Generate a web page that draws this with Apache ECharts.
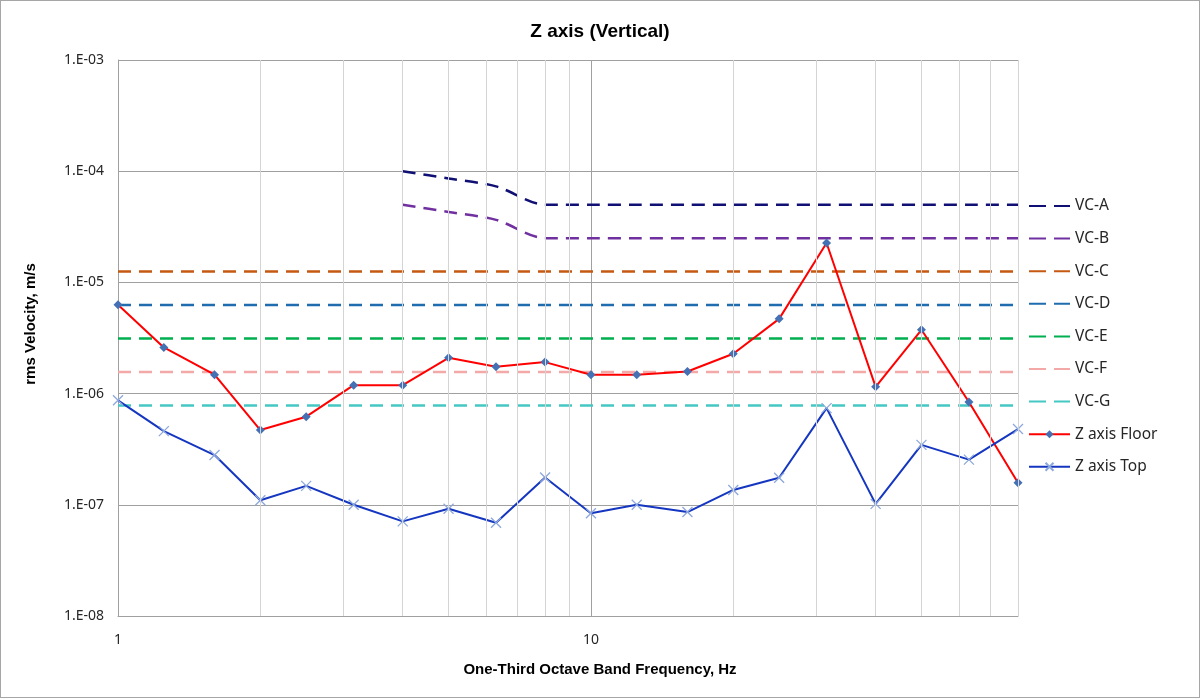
<!DOCTYPE html>
<html>
<head>
<meta charset="utf-8">
<script src="https://cdn.jsdelivr.net/npm/echarts@6/dist/echarts.min.js"></script>
<style>
  html, body { margin: 0; padding: 0; background: #fff; }
  #chart { width: 1198px; height: 696px; border: 1px solid #A6A6A6; }
</style>
</head>
<body>
<div id="chart"></div>
<script>
// ---- Data ----
const freqs = [1, 1.25, 1.6, 2, 2.5, 3.15, 4, 5, 6.3, 8, 10, 12.5, 16, 20, 25, 31.5, 40, 50, 63, 80];
const zFloor = [6.3e-6, 2.6e-6, 1.48e-6, 4.7e-7, 6.2e-7, 1.19e-6, 1.19e-6, 2.1e-6, 1.74e-6, 1.92e-6, 1.48e-6, 1.48e-6, 1.58e-6, 2.28e-6, 4.7e-6, 2.26e-5, 1.15e-6, 3.75e-6, 8.4e-7, 1.58e-7];
const zTop = [8.7e-7, 4.6e-7, 2.8e-7, 1.1e-7, 1.48e-7, 1.0e-7, 7.1e-8, 9.2e-8, 6.9e-8, 1.76e-7, 8.4e-8, 1.0e-7, 8.6e-8, 1.36e-7, 1.75e-7, 7.4e-7, 1.02e-7, 3.46e-7, 2.55e-7, 4.8e-7];
const vcFreqs = [4, 5, 6.3, 8, 10, 12.5, 16, 20, 25, 31.5, 40, 50, 63, 80];
const vcA = [1.0e-4, 8.6e-5, 7.3e-5, 5.0e-5, 5.0e-5, 5.0e-5, 5.0e-5, 5.0e-5, 5.0e-5, 5.0e-5, 5.0e-5, 5.0e-5, 5.0e-5, 5.0e-5];
const vcB = [5.0e-5, 4.3e-5, 3.65e-5, 2.5e-5, 2.5e-5, 2.5e-5, 2.5e-5, 2.5e-5, 2.5e-5, 2.5e-5, 2.5e-5, 2.5e-5, 2.5e-5, 2.5e-5];
const flatFreqs = [1, 80];
const vcC = [12.5e-6, 12.5e-6];
const vcD = [6.25e-6, 6.25e-6];
const vcE = [3.125e-6, 3.125e-6];
const vcF = [1.5625e-6, 1.5625e-6];
const vcG = [7.8e-7, 7.8e-7];
const minorGridFreqs = [2, 3, 4, 5, 6, 7, 8, 9, 20, 30, 40, 50, 60, 70, 80];
const vcNames = ['VC-A', 'VC-B', 'VC-C', 'VC-D', 'VC-E', 'VC-F', 'VC-G'];
const measNames = ['Z axis Floor', 'Z axis Top'];

const pair = (xs, ys) => xs.map((x, i) => [x, ys[i]]);

function dashed(name, xs, ys, color, smooth) {
  return {
    name: name, type: 'line', data: pair(xs, ys),
    symbol: 'none', smooth: smooth || false,
    lineStyle: { color: color, width: 2.5, type: [13, 8] },
    itemStyle: { color: color },
    emphasis: { disabled: true }
  };
}

const chart = echarts.init(document.getElementById('chart'));
const font = '"Noto Sans", "Open Sans", sans-serif';
const boldFont = '"Liberation Sans", Arial, sans-serif';

const legendData = vcNames.map(n => ({
  name: n,
  itemStyle: { color: 'rgba(0,0,0,0)', borderWidth: 0, opacity: 0 },
  lineStyle: { type: [17, 8] }
})).concat(measNames.map(n => ({ name: n })));

chart.setOption({
  animation: false,
  backgroundColor: '#fff',
  title: {
    text: 'Z axis (Vertical)', left: 'center', top: 16,
    textStyle: { fontFamily: boldFont, fontWeight: 'bold', fontSize: 19, color: '#000' }
  },
  grid: { left: 117, top: 59, width: 900, height: 556 },
  legend: {
    orient: 'vertical', left: 1022, top: 192,
    itemWidth: 41, itemHeight: 10, itemGap: 16.6,
    data: legendData,
    textStyle: { fontFamily: font, fontSize: 15.5, color: '#262626' }
  },
  xAxis: {
    type: 'log', logBase: 10, min: 1, max: 80,
    name: 'One-Third Octave Band Frequency, Hz', nameLocation: 'middle', nameGap: 46,
    nameTextStyle: { fontFamily: boldFont, fontWeight: 'bold', fontSize: 15, color: '#000', padding: [0, 0, 0, 64] },
    axisLine: { show: true, lineStyle: { color: '#A0A0A0', width: 1 } },
    axisTick: { show: false },
    axisLabel: {
      margin: 17, fontFamily: font, fontSize: 14, color: '#262626',
      showMaxLabel: false,
      formatter: v => { const e = Math.log10(v); return Math.abs(e - Math.round(e)) < 1e-6 ? String(Math.round(v)) : ''; }
    },
    splitLine: { show: true, lineStyle: { color: '#A0A0A0', width: 1 } },
    minorTick: { show: false }, minorSplitLine: { show: false }
  },
  yAxis: {
    type: 'log', logBase: 10, min: 1e-8, max: 1e-3,
    name: 'rms Velocity, m/s', nameLocation: 'middle', nameGap: 80,
    nameTextStyle: { fontFamily: boldFont, fontWeight: 'bold', fontSize: 15, color: '#000', padding: [0, 0, 0, 28] },
    axisLine: { show: true, lineStyle: { color: '#A0A0A0', width: 1 } },
    axisTick: { show: false },
    axisLabel: {
      margin: 14, fontFamily: font, fontSize: 14, color: '#262626',
      formatter: v => {
        const e = Math.round(Math.log10(v));
        const a = Math.abs(e);
        return '1.E' + (e < 0 ? '-' : '+') + (a < 10 ? '0' + a : a);
      }
    },
    splitLine: { show: true, lineStyle: { color: '#A0A0A0', width: 1 } }
  },
  series: [
    {
      name: 'grid-minor', type: 'line', data: [], silent: true,
      markLine: {
        silent: true, symbol: ['none', 'none'], label: { show: false },
        lineStyle: { color: '#D4D4D4', width: 1, type: 'solid' },
        emphasis: { disabled: true },
        data: minorGridFreqs.map(f => ({ xAxis: f }))
      }
    },
    dashed('VC-A', vcFreqs, vcA, '#101074', 0.3),
    dashed('VC-B', vcFreqs, vcB, '#7030A0', 0.3),
    dashed('VC-C', flatFreqs, vcC, '#C65911'),
    dashed('VC-D', flatFreqs, vcD, '#1F6DAE'),
    dashed('VC-E', flatFreqs, vcE, '#00B050'),
    dashed('VC-F', flatFreqs, vcF, '#F4A9A9'),
    dashed('VC-G', flatFreqs, vcG, '#45C8C4'),
    {
      name: 'Z axis Floor', type: 'line', data: pair(freqs, zFloor),
      symbol: 'diamond', symbolSize: 9,
      lineStyle: { color: '#FF0000', width: 2 },
      itemStyle: { color: '#4470B4' },
      emphasis: { disabled: true }
    },
    {
      name: 'Z axis Top', type: 'line', data: pair(freqs, zTop),
      symbol: 'path://M0,0L10,10M10,0L0,10', symbolSize: 10,
      lineStyle: { color: '#1436C0', width: 2 },
      itemStyle: { color: 'rgba(0,0,0,0)', borderColor: '#8DA8DC', borderWidth: 1.3 },
      emphasis: { disabled: true }
    }
  ]
});
</script>
</body>
</html>
